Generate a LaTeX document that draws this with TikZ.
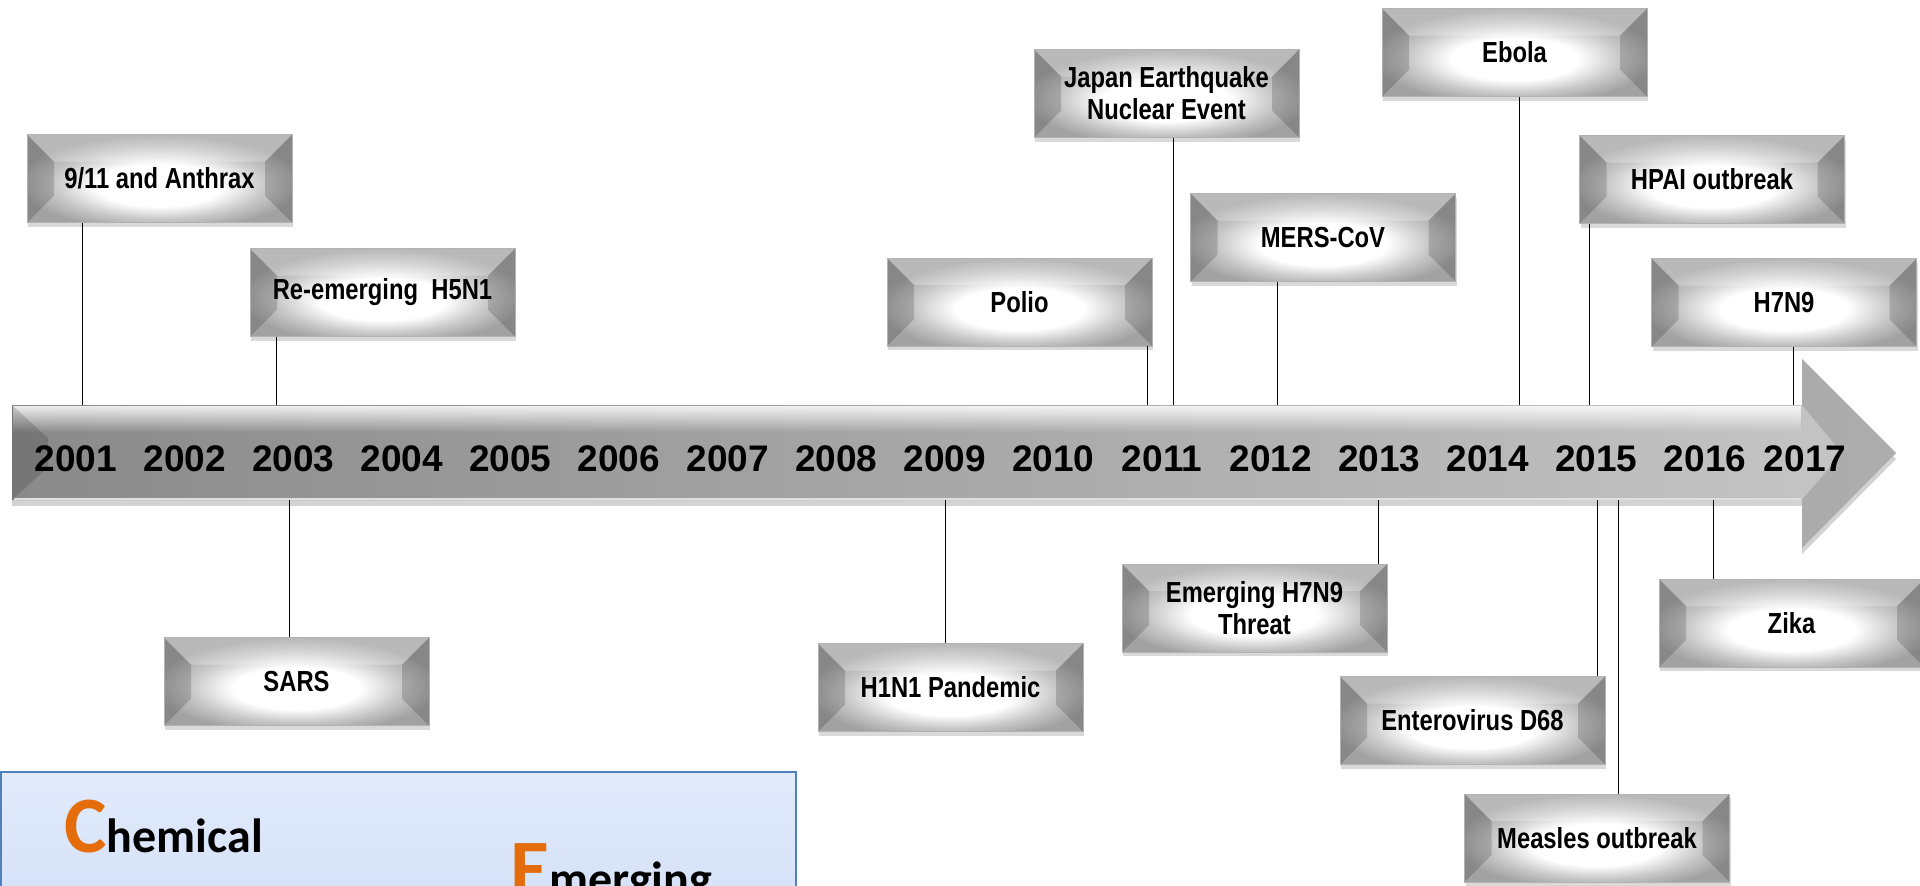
\documentclass[tikz,border=0pt]{standalone}
\usepackage{fontspec}
\setmainfont{Liberation Sans}
\newfontfamily\narrowfont[FakeStretch=0.82]{Liberation Sans}
\newfontfamily\calfont{Carlito}
\usetikzlibrary{shadows,fadings}
\definecolor{arrowleft}{HTML}{8A8A8A}
\definecolor{arrowright}{HTML}{C6C6C6}
\definecolor{boxedge}{HTML}{A2A2A2}
\definecolor{boxmid}{HTML}{C8C8C8}
\definecolor{panelborder}{HTML}{4F81BD}
\definecolor{paneltop}{HTML}{E2EBFC}
\definecolor{panelbottom}{HTML}{D2DFF7}
\definecolor{accent}{HTML}{E46C0A}
\pgfdeclareradialshading{bevel}{\pgfpoint{0bp}{-5bp}}{color(0bp)=(white);color(12bp)=(white);color(20bp)=(boxmid);color(27bp)=(boxedge);color(50bp)=(boxedge)}

\begin{document}
\begin{tikzpicture}[x=0.5pt,y=-0.5pt]
	\tikzstyle{event}=[draw=gray!60,shade,shading=bevel,minimum width=132.5pt,minimum height=44pt,inner sep=0pt,align=center,
		font=\narrowfont\bfseries\fontsize{14.5}{16}\selectfont,
		drop shadow={opacity=0.3,shadow xshift=0.5pt,shadow yshift=-2pt},
		path picture={
			\fill[black,opacity=0.16] (path picture bounding box.north west) -- ++(13.5pt,-13.5pt) -- ([shift={(13.5pt,13.5pt)}]path picture bounding box.south west) -- (path picture bounding box.south west) -- cycle;
			\fill[black,opacity=0.16] (path picture bounding box.north east) -- ++(-13.5pt,-13.5pt) -- ([shift={(-13.5pt,13.5pt)}]path picture bounding box.south east) -- (path picture bounding box.south east) -- cycle;
			\fill[white,opacity=0.25] (path picture bounding box.north west) -- ++(13.5pt,-13.5pt) -- ([shift={(-13.5pt,-13.5pt)}]path picture bounding box.north east) -- (path picture bounding box.north east) -- cycle;
		}]
	\tikzstyle{year}=[anchor=base,font=\bfseries\fontsize{18.5}{20}\selectfont]
	\tikzstyle{stem}=[line width=0.5pt]
	\useasboundingbox (0,0) rectangle (1920,885);

	\shade[left color=arrowleft,right color=arrowright,drop shadow={opacity=0.35,shadow xshift=0pt,shadow yshift=-3pt}]
		(12,405) -- (1802,405) -- (1802,359) -- (1896,453) -- (1802,548) -- (1802,500) -- (12,500) -- cycle;
	\fill[white,opacity=0.85,path fading=south] (13,406) rectangle (1801,432);
	\draw[white!75!gray,line width=1pt] (14,499) -- (1801,499);
	\fill[black,opacity=0.15] (12,405) -- (48,438) -- (48,467) -- (12,500) -- cycle;
	\fill[black,opacity=0.12] (1802,359) -- (1896,453) -- (1842,453) -- (1802,405) -- cycle;
	\fill[black,opacity=0.12] (1802,548) -- (1896,453) -- (1842,453) -- (1802,500) -- cycle;

	\foreach \i in {0,...,15}
		\node[year] (y\i) at ({76+108.6*\i},471.5) {\the\numexpr2001+\i\relax};
	\node[year] (y16) at (1805,471.5) {2017};

	\node[event] (anthrax) at (159.5,178.5) {9/11 and Anthrax};
	\node[event] (h5n1) at (382.5,292.5) {Re-emerging\ \ H5N1};
	\node[event] (japan) at (1166.5,93.5) {Japan Earthquake\\Nuclear Event};
	\node[event] (polio) at (1019.5,302) {Polio};
	\node[event] (mers) at (1323,237.5) {MERS-CoV};
	\node[event] (ebola) at (1514.5,52.5) {Ebola};
	\node[event] (hpai) at (1712,179.5) {HPAI outbreak};
	\node[event] (h7n9) at (1784,302.5) {H7N9};
	\node[event] (sars) at (296.5,681.5) {SARS};
	\node[event] (h1n1) at (950.5,687.5) {H1N1 Pandemic};
	\node[event] (threat) at (1254.5,608) {Emerging H7N9\\Threat};
	\node[event] (entero) at (1472.5,720.5) {Enterovirus D68};
	\node[event] (measles) at (1597,838) {Measles outbreak};
	\node[event] (zika) at (1791.5,623) {Zika};

	\foreach \ev/\xx in {anthrax/82,h5n1/276,japan/1173,polio/1147,mers/1277,ebola/1519,hpai/1589,h7n9/1793}{
		\coordinate (s\ev) at (\xx,405);
		\draw[stem] (\ev.south -| s\ev) -- (s\ev);
	}
	\foreach \ev/\xx in {sars/289,h1n1/945,threat/1378,entero/1597,measles/1618,zika/1713}{
		\coordinate (s\ev) at (\xx,500);
		\draw[stem] (\ev.north -| s\ev) -- (s\ev);
	}

	\draw[panelborder,line width=0.75pt,top color=paneltop,bottom color=panelbottom] (1,772) rectangle (796,940);
	\node[anchor=base west,inner sep=0pt,font=\calfont\bfseries] (chem) at (64,852)
		{{\fontsize{40}{40}\selectfont\color{accent}C}{\fontsize{24}{24}\selectfont hemical}};
	\node[anchor=base west,inner sep=0pt,font=\calfont\bfseries] (emer) at (510,895)
		{{\fontsize{40}{40}\selectfont\color{accent}E}{\fontsize{24}{24}\selectfont merging}};
\end{tikzpicture}
\end{document}
